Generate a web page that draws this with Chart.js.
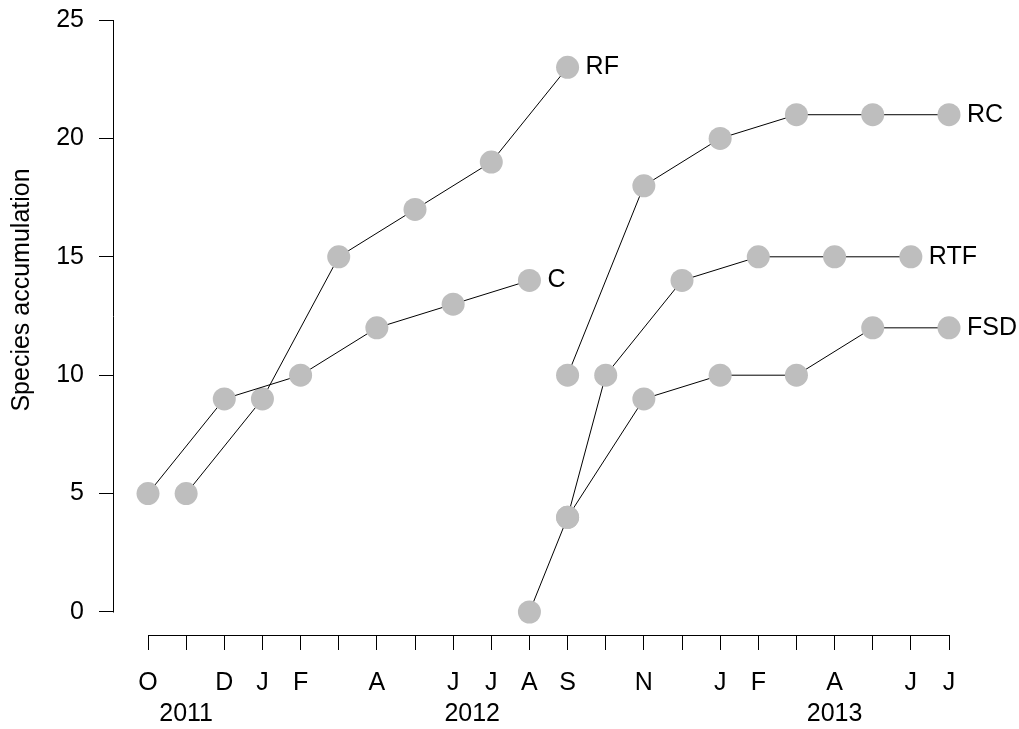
<!DOCTYPE html>
<html>
<head>
<meta charset="utf-8">
<script src="https://cdn.jsdelivr.net/npm/chart.js@4/dist/chart.umd.min.js"></script>
<style>
html,body{margin:0;padding:0;background:#fff;}
#wrap{width:1019px;height:729px;}
</style>
</head>
<body>
<div id="wrap"><canvas id="c" width="1019" height="729"></canvas></div>
<script>
// ---- data ----
const monthLabels = ["O","","D","J","F","","A","","J","J","A","S","","N","","J","F","","A","","J","J"];
const yearLabels = ["2011","2012","2013"];
const yearPositions = [1, 8.5, 18];
const yTicks = [0, 5, 10, 15, 20, 25];
const yTitle = "Species accumulation";

const seriesNames = ["C", "RF", "RC", "RTF", "FSD"];
const cMonths   = [0, 2, 4, 6, 8, 10];
const cValues   = [5, 9, 10, 12, 13, 14];
const rfMonths  = [1, 3, 5, 7, 9, 11];
const rfValues  = [5, 9, 15, 17, 19, 23];
const rcMonths  = [11, 13, 15, 17, 19, 21];
const rcValues  = [10, 18, 20, 21, 21, 21];
const rtfMonths = [11, 12, 14, 16, 18, 20];
const rtfValues = [4, 10, 14, 15, 15, 15];
const fsdMonths = [10, 11, 13, 15, 17, 19, 21];
const fsdValues = [0, 4, 9, 10, 10, 12, 12];

const seriesMonths = [cMonths, rfMonths, rcMonths, rtfMonths, fsdMonths];
const seriesValues = [cValues, rfValues, rcValues, rtfValues, fsdValues];

// ---- style ----
const FONT = "'Liberation Sans', Arial, Helvetica, sans-serif";
const FSIZE = 25;
const X_MIN = -0.8915, X_MAX = 22.337;
const Y_MIN = -0.9713, Y_MAX = 25;

const datasets = seriesNames.map((name, s) => ({
  label: name,
  data: seriesMonths[s].map((m, i) => ({ x: m, y: seriesValues[s][i] })),
  xAxisID: 'x',
  yAxisID: 'y',
  showLine: true,
  borderColor: '#000',
  borderWidth: 1,
  pointBackgroundColor: '#BEBEBE',
  pointBorderWidth: 0,
  pointRadius: 11.5,
  pointHoverRadius: 11.5,
  tension: 0,
  clip: false
}));

const axisLines = {
  id: 'axisLines',
  beforeDatasetsDraw(chart) {
    const { ctx, chartArea: ca } = chart;
    const x = chart.scales.x, y = chart.scales.y;
    ctx.save();
    ctx.strokeStyle = '#000';
    ctx.lineWidth = 1;
    ctx.beginPath();
    const yb = Math.round(ca.bottom) + 0.5;
    ctx.moveTo(Math.round(x.getPixelForValue(0)) + 0.5, yb);
    ctx.lineTo(Math.round(x.getPixelForValue(monthLabels.length - 1)) + 0.5, yb);
    const xl = Math.round(ca.left) - 0.5;
    ctx.moveTo(xl, Math.round(y.getPixelForValue(yTicks[0])) + 0.5);
    ctx.lineTo(xl, Math.round(y.getPixelForValue(yTicks[yTicks.length - 1])) + 0.5);
    ctx.stroke();
    // y axis title
    ctx.fillStyle = '#000';
    ctx.font = FSIZE + 'px ' + FONT;
    ctx.textAlign = 'center';
    ctx.textBaseline = 'middle';
    ctx.translate(22, 290);
    ctx.rotate(-Math.PI / 2);
    ctx.fillText(yTitle, 0, 0);
    ctx.restore();
  }
};

const seriesLabels = {
  id: 'seriesLabels',
  afterDatasetsDraw(chart) {
    const { ctx } = chart;
    ctx.save();
    ctx.fillStyle = '#000';
    ctx.font = FSIZE + 'px ' + FONT;
    ctx.textAlign = 'left';
    ctx.textBaseline = 'middle';
    chart.data.datasets.forEach((ds, i) => {
      const meta = chart.getDatasetMeta(i);
      const p = meta.data[meta.data.length - 1];
      ctx.fillText(ds.label, p.x + 18, p.y);
    });
    ctx.restore();
  }
};

function noPad(s) { s.paddingTop = 0; s.paddingBottom = 0; s.paddingLeft = 0; s.paddingRight = 0; }

new Chart(document.getElementById('c'), {
  type: 'line',
  data: { datasets },
  plugins: [axisLines, seriesLabels],
  options: {
    responsive: false,
    animation: false,
    events: [],
    layout: { padding: { top: 20, right: 19, bottom: 0, left: 0 } },
    plugins: { legend: { display: false }, tooltip: { enabled: false }, title: { display: false } },
    scales: {
      x: {
        type: 'linear', position: 'bottom', weight: 0,
        min: X_MIN, max: X_MAX,
        afterBuildTicks(s) { s.ticks = monthLabels.map((_, i) => ({ value: i })); },
        afterFit(s) { s.height = 60; noPad(s); },
        border: { display: false },
        grid: { drawOnChartArea: false, drawTicks: true, tickLength: 15, color: '#000', lineWidth: 1 },
        ticks: {
          autoSkip: false, maxRotation: 0, minRotation: 0, padding: 18, color: '#000',
          font: { family: FONT, size: FSIZE },
          callback: (v, i) => monthLabels[i]
        }
      },
      x2: {
        type: 'linear', position: 'bottom', weight: 1,
        min: X_MIN, max: X_MAX,
        afterBuildTicks(s) { s.ticks = yearPositions.map(v => ({ value: v })); },
        afterFit(s) { s.height = 34; noPad(s); },
        border: { display: false },
        grid: { display: false, drawTicks: false, drawOnChartArea: false },
        ticks: {
          autoSkip: false, maxRotation: 0, minRotation: 0, padding: 4, color: '#000',
          font: { family: FONT, size: FSIZE },
          callback: (v, i) => yearLabels[i]
        }
      },
      y: {
        type: 'linear', position: 'left',
        min: Y_MIN, max: Y_MAX,
        afterBuildTicks(s) { s.ticks = yTicks.map(v => ({ value: v })); },
        afterFit(s) { s.width = 114; noPad(s); },
        border: { display: false },
        grid: { drawOnChartArea: false, drawTicks: true, tickLength: 15, color: '#000', lineWidth: 1 },
        ticks: {
          padding: 15, color: '#000',
          font: { family: FONT, size: FSIZE },
          callback: (v) => String(v)
        }
      }
    }
  }
});
</script>
</body>
</html>
